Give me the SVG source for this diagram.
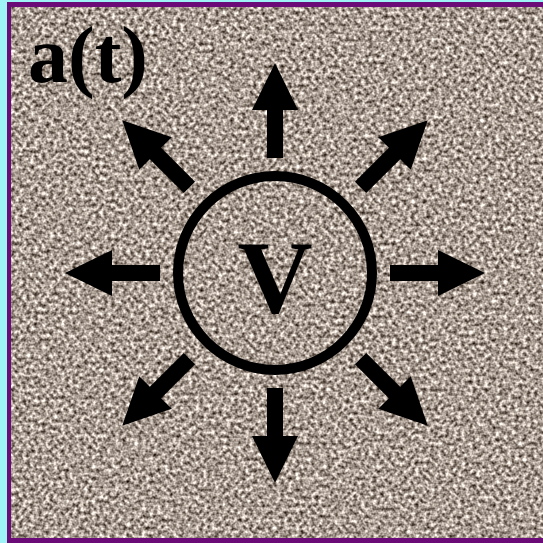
<svg xmlns="http://www.w3.org/2000/svg" width="543" height="543" viewBox="0 0 543 543">
  <defs>
    <filter id="granite" x="0" y="0" width="1" height="1" filterUnits="objectBoundingBox" color-interpolation-filters="sRGB">
      <feTurbulence type="fractalNoise" baseFrequency="0.26" numOctaves="2" seed="7" result="n"/>
      <feGaussianBlur in="n" stdDeviation="0.6" result="b"/>
      <feColorMatrix in="b" type="matrix" values="1.4 0 0 0 -0.04  1.4 0 0 0 -0.09  1.4 0 0 0 -0.13  0 0 0 0 1"/>
    </filter>
    <path id="arrow" d="M0,-210 L23,-163 L8,-163 L8,-115 L-8,-115 L-8,-163 L-23,-163 Z"/>
  </defs>
  <style>
    .arr { fill: #000; }
    .lbl { font-family: "Liberation Serif", "Times New Roman", serif; font-weight: bold; fill: #000; }
  </style>
  <rect x="0" y="0" width="543" height="543" fill="#9ef3f6"/>
  <rect x="7" y="2" width="536" height="541" fill="#6b0b78"/>
  <rect x="11" y="7" width="532" height="531" fill="#a5988b"/>
  <rect x="11" y="7" width="532" height="531" filter="url(#granite)"/>

  <g id="connectors" transform="translate(275,273)">
    <use href="#arrow" class="arr"/>
    <use href="#arrow" class="arr" transform="rotate(90)"/>
    <use href="#arrow" class="arr" transform="rotate(180)"/>
    <use href="#arrow" class="arr" transform="rotate(270)"/>
    <use href="#arrow" class="arr" transform="rotate(45) translate(0,-6)"/>
    <use href="#arrow" class="arr" transform="rotate(135) translate(0,-6)"/>
    <use href="#arrow" class="arr" transform="rotate(225) translate(0,-6)"/>
    <use href="#arrow" class="arr" transform="rotate(315) translate(0,-6)"/>
  </g>

  <g id="node-v">
    <circle cx="275" cy="273" r="97" fill="none" stroke="#000" stroke-width="10"/>
    <text class="lbl" x="275" y="312" font-size="104" text-anchor="middle">V</text>
  </g>

  <g id="label-at">
    <text class="lbl" x="28" y="82" font-size="80">a(t)</text>
  </g>
</svg>
